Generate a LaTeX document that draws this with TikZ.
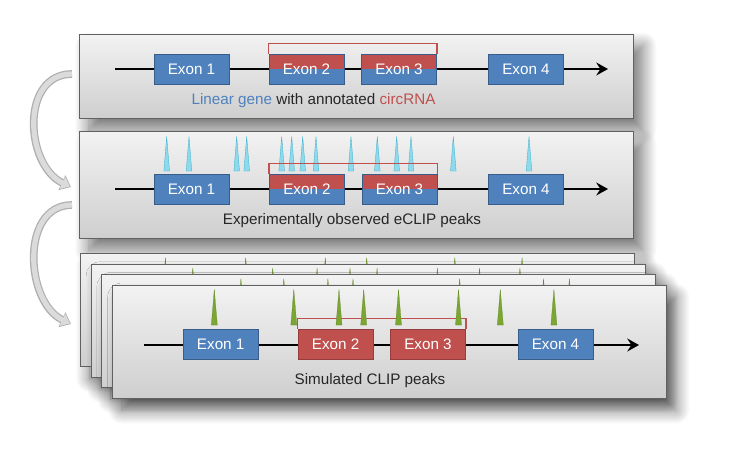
\documentclass[tikz,border=0pt]{standalone}
\usepackage{fontspec}
\setmainfont{Liberation Sans}
\usepackage{tikz}
\usetikzlibrary{arrows.meta,positioning,shadows.blur}

\definecolor{exonblue}{RGB}{79,129,189}
\definecolor{exonblueline}{RGB}{56,93,138}
\definecolor{circred}{RGB}{192,80,77}
\definecolor{circredline}{RGB}{150,60,58}
\definecolor{peakcyan}{RGB}{140,218,236}
\definecolor{peakcyanline}{RGB}{70,178,208}
\definecolor{peakgreen}{RGB}{122,166,50}

\tikzset{
  panel/.style={draw=black!62, line width=0.7pt, top color=gray!10, bottom color=gray!38,
    minimum width=16.62cm, anchor=north west, inner sep=0pt,
    blur shadow={shadow xshift=8pt, shadow yshift=-10pt, shadow blur radius=12pt,
      shadow blur steps=16, shadow opacity=55}},
  exon/.style={draw=exonblueline, fill=exonblue, line width=0.8pt, text=white,
    minimum width=2.25cm, minimum height=0.9cm, inner sep=0pt, font=\fontsize{13}{15}\selectfont},
  halfexon/.style={exon, path picture={\fill[circred] (path picture bounding box.north west)
    rectangle (path picture bounding box.east);}},
  redexon/.style={exon, draw=circredline, fill=circred},
  geneline/.style={line width=2.3pt, -{Stealth[length=10pt, width=11pt, inset=3.5pt]}},
  circbox/.style={draw=circred, line width=1.2pt},
  caption/.style={font=\fontsize{13}{15}\selectfont, text=black!85},
  cyanpeak/.style={fill=peakcyan, draw=peakcyanline, line width=0.3pt},
  greenpeak/.style={fill=peakgreen, draw=peakgreen!80!black, line width=0.2pt},
  turnarrow/.style={draw=gray!28, line width=4.4pt, shorten >=1.1pt,
    -{Triangle[length=7pt, width=11pt]},
    preaction={draw=gray!62, line width=6.6pt, shorten >=0pt, -{Triangle[length=8.6pt, width=13.5pt]}}}
}

\begin{document}
\begin{tikzpicture}[x=0.03cm, y=-0.03cm]
  \useasboundingbox (0,0) rectangle (737,470);

  % panels
  \node[panel, minimum height=2.52cm] (p1) at (79,34) {};
  \node[panel, minimum height=3.21cm] (p2) at (79,131) {};
  \foreach \px/\py/\pks in {80/253.3/{165.4,245.7,325.3,366.7,454.8,522.1},
                            90.5/263.7/{192.8,272.7,317.1,350,377.1,437.4,479.5,519.9},
                            101.2/274.3/{240.9,283.8,327.9,353,459.6,543.5,569.4}} {
    \node[panel, minimum height=3.39cm] at (\px,\py) {};
    \foreach \k in \pks
      \fill[greenpeak] (\k-3,\py+40) -- (\k,\py+4.3) -- (\k+3,\py+40) -- cycle;
  }
  \node[panel, minimum height=3.39cm] (p3) at (112,285) {};

  % linear gene with circRNA
  \coordinate (g1s) at (115,69);
  \coordinate (g1e) at (608,69);
  \draw[geneline] (g1s) -- (g1e);
  \node[exon] (a1) at (191.5,69) {Exon 1};
  \node[halfexon] (a2) at (306.5,69) {Exon 2};
  \node[halfexon] (a3) at (399,69) {Exon 3};
  \node[exon] (a4) at (526,69) {Exon 4};
  \draw[circbox] (a2.north west) -- ++(0,-10) -| (a3.north east);

  % observed peaks
  \coordinate (g2s) at (115,189);
  \coordinate (g2e) at (608,189);
  \draw[geneline] (g2s) -- (g2e);
  \node[exon] (b1) at (191.5,189) {Exon 1};
  \node[halfexon] (b2) at (307,189) {Exon 2};
  \node[halfexon] (b3) at (399.5,189) {Exon 3};
  \node[exon] (b4) at (526,189) {Exon 4};
  \foreach \k in {166.7,189,236.7,246.7,281.7,291.7,302.7,316,351,377.3,396.7,411,453.3,529}
    \filldraw[cyanpeak] (\k-2.8,171) -- (\k,136.5) -- (\k+2.8,171) -- cycle;
  \draw[circbox] (b2.north west) -- ++(0,-10) -| (b3.north east);

  % simulated peaks
  \coordinate (g3s) at (144,345);
  \coordinate (g3e) at (639,345);
  \draw[geneline] (g3s) -- (g3e);
  \node[exon] (s1) at (220.7,344) {Exon 1};
  \node[redexon] (s2) at (335.6,344) {Exon 2};
  \node[redexon] (s3) at (428,344) {Exon 3};
  \node[exon] (s4) at (555.5,344) {Exon 4};
  \draw[circbox] (s2.north west) -- ++(0,-10) -| (s3.north east);
  \foreach \k in {214.3,293.8,339,363.7,398.5,458.5,500.3,553.9}
    \fill[greenpeak] (\k-3,325) -- (\k,289.3) -- (\k+3,325) -- cycle;

  % curved arrows between panels
  \coordinate (r1s) at (72,74);
  \coordinate (r1e) at (71,187);
  \draw[turnarrow] (r1s) .. controls (20,74) and (25,165) .. (r1e);
  \coordinate (r2s) at (72,205);
  \coordinate (r2e) at (71,324);
  \draw[turnarrow] (r2s) .. controls (20,205) and (25,302) .. (r2e);

  % captions
  \node[caption] (c3) at (370,381) {Simulated CLIP peaks};
  \node[caption] (c2) at (352,221) {Experimentally observed eCLIP peaks};
  \node[caption] (c1) at (313.5,101) {\textcolor{exonblue}{Linear gene} with annotated \textcolor{circred}{circRNA}};
\end{tikzpicture}
\end{document}
